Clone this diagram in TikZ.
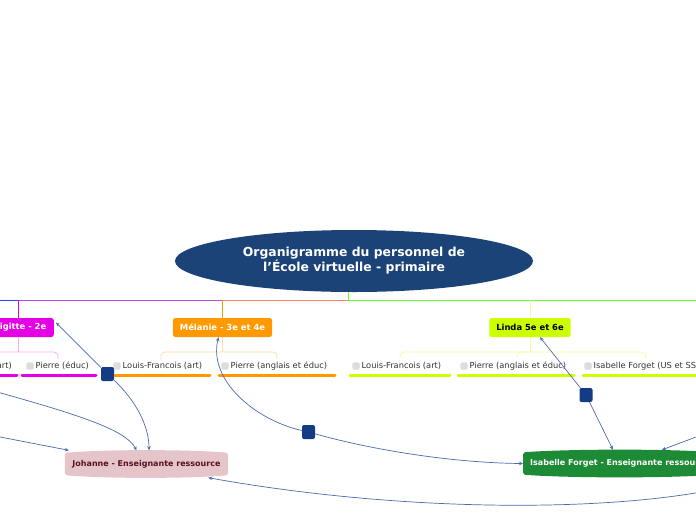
\documentclass[tikz,border=0pt]{standalone}
\usepackage{fontspec}
\setmainfont{DejaVu Sans}
\usetikzlibrary{arrows.meta,backgrounds,calc,shapes.geometric}
\definecolor{titleblue}{HTML}{1B4378}
\definecolor{handle}{HTML}{133B86}
\definecolor{rel}{HTML}{4A6AAA}
\definecolor{mag}{HTML}{E600E6}
\definecolor{magtop}{HTML}{B84CF0}
\definecolor{magl}{HTML}{F7A8F7}
\definecolor{org}{HTML}{FF9900}
\definecolor{orgtop}{HTML}{F4845A}
\definecolor{orgl}{HTML}{FFDCA8}
\definecolor{lime}{HTML}{CCFF00}
\definecolor{limel}{HTML}{EEFFA0}
\definecolor{grn}{HTML}{66FF22}
\definecolor{bluetop}{HTML}{3344FF}
\definecolor{pinkbg}{HTML}{E5C5C9}
\definecolor{maroon}{HTML}{5A0F22}
\definecolor{greenbg}{HTML}{1D8A35}
\definecolor{cbgray}{HTML}{DDDDDD}
\begin{document}
\begin{tikzpicture}[x=1pt,y=-1pt,
  branch/.style={rounded corners=2.5pt, minimum height=19pt, inner xsep=7pt, inner ysep=0pt, font=\fontsize{8.4}{10}\selectfont\bfseries, text=white},
  itemtext/.style={anchor=west, inner sep=0pt, font=\fontsize{8.3}{10}\selectfont, text=black!80},
  cbox/.style={fill=cbgray, draw=black!20, line width=0.3pt, rounded corners=1pt, minimum size=6.5pt, inner sep=0pt},
  uline/.style={line width=3pt, line cap=round},
  bracket/.style={line width=0.8pt, rounded corners=4pt},
  handlebox/.style={fill=handle, rounded corners=2pt, minimum width=13pt, minimum height=14pt, inner sep=0pt},
  relline/.style={draw=rel, line width=0.7pt, -{Stealth[length=4pt,width=3.5pt]}},
  resource/.style={font=\fontsize{8}{10}\selectfont\bfseries, inner xsep=7pt, inner ysep=0pt, minimum height=27pt},
  trunk/.style={line width=1pt}
]
\useasboundingbox (0,0) rectangle (696,520);
\clip (0,0) rectangle (696,520);

% root
\node[ellipse, fill=titleblue, minimum width=358pt, minimum height=62pt, inner sep=0pt,
      text=white, font=\fontsize{12.4}{15}\selectfont\bfseries, align=center] (root) at (354,261)
      {Organigramme du personnel de\\l'École virtuelle - primaire};
\coordinate (hub) at (348,300);

% branch nodes
\node[branch, fill=mag, minimum width=72pt, anchor=east] (bri) at (54,327.5) {Brigitte - 2e};
\node[branch, fill=org] (mel) at (222.5,327.5) {Mélanie - 3e et 4e};
\node[branch, fill=lime, text=black] (lin) at (530,327.5) {Linda 5e et 6e};
\coordinate (offTop) at (-10,300);
\coordinate (offTopR) at (706,300);
\coordinate (briDrop) at (18,300);

% trunk lines
\draw[trunk, grn] (root.south -| hub) -- (hub) -- (offTopR);
\draw[trunk, bluetop] (hub) -- (offTop);
\draw[trunk, magtop] (hub) -- (briDrop);
\draw[trunk, mag] (briDrop) -- (briDrop |- bri.north);
\draw[trunk, orgtop] (hub) -- (mel.north |- hub);
\draw[trunk, org] (mel.north |- hub) -- (mel.north);
\draw[trunk, limel] (lin.north |- hub) -- (lin.north);

% brackets
\draw[bracket, magl] (briDrop |- bri.south) -- (18,352);
\draw[bracket, magl] (-10,352) -- (58,352) -- (58,359);
\draw[bracket, orgl] (mel.south) -- (mel.south |- 0,352);
\draw[bracket, orgl] (161,359) -- (161,352) -- (277,352) -- (277,359);
\draw[bracket, limel] (lin.south) -- (lin.south |- 0,352);
\draw[bracket, limel] (400,359) -- (400,352) -- (530,352);
\draw[bracket, limel] (517,357) -- (517,352) -- (646,352) -- (646,359);

% items - Brigitte
\node[cbox] (cbB1) at (-77,366) {};
\node[itemtext, anchor=east] (tB1) at (12,366) {Louis-Francois (art)};
\draw[uline, mag] (-80,375) -- (17,375);
\node[cbox] (cbB2) at (30,366) {};
\node[itemtext] (tB2) at (35.5,366) {Pierre (éduc)};
\draw[uline, mag] (22,375) -- (96,375);
% items - Melanie
\node[cbox] (cbM1) at (117,366) {};
\node[itemtext] (tM1) at (122.5,366) {Louis-Francois (art)};
\draw[uline, org] (115,375) -- (210,375);
\node[cbox] (cbM2) at (225,366) {};
\node[itemtext] (tM2) at (230.5,366) {Pierre (anglais et éduc)};
\draw[uline, org] (219,375) -- (335,375);
% items - Linda
\node[cbox] (cbL1) at (356,366) {};
\node[itemtext] (tL1) at (361.5,366) {Louis-Francois (art)};
\draw[uline, lime] (350,375) -- (450,375);
\node[cbox] (cbL2) at (464,366) {};
\node[itemtext] (tL2) at (469.5,366) {Pierre (anglais et éduc)};
\draw[uline, lime] (458,375) -- (574,375);
\node[cbox] (cbL3) at (588,366) {};
\node[itemtext] (tL3) at (593.5,366) {Isabelle Forget (US et SS)};
\draw[uline, lime] (583,375) -- (710,375);

% resource nodes
\node[resource, text=maroon, minimum width=163pt] (joh) at (146.5,464) {Johanne - Enseignante ressource};
\node[resource, text=white, anchor=west] (isa) at (523,463.5) {Isabelle Forget - Enseignante ressource};
\begin{scope}[on background layer]
\fill[pinkbg, rounded corners=2pt]
  ([yshift=-2.5pt]joh.north west)
  .. controls ([yshift=1pt]$(joh.north west)!0.25!(joh.north east)$) and ([yshift=1pt]$(joh.north west)!0.75!(joh.north east)$) ..
  ([yshift=-2.5pt]joh.north east) -- ([yshift=2.5pt]joh.south east)
  .. controls ([yshift=-1pt]$(joh.south west)!0.75!(joh.south east)$) and ([yshift=-1pt]$(joh.south west)!0.25!(joh.south east)$) ..
  ([yshift=2.5pt]joh.south west) -- cycle;
\fill[greenbg, rounded corners=2pt]
  ([yshift=-2.5pt]isa.north west)
  .. controls ([yshift=1pt]$(isa.north west)!0.25!(isa.north east)$) and ([yshift=1pt]$(isa.north west)!0.75!(isa.north east)$) ..
  ([yshift=-2.5pt]isa.north east) -- ([yshift=2.5pt]isa.south east)
  .. controls ([yshift=-1pt]$(isa.south west)!0.75!(isa.south east)$) and ([yshift=-1pt]$(isa.south west)!0.25!(isa.south east)$) ..
  ([yshift=2.5pt]isa.south west) -- cycle;
\end{scope}

% handles
\node[handlebox] (h1) at (107.5,374) {};
\node[handlebox] (h2) at (308.5,432) {};
\node[handlebox] (h3) at (586,395) {};

% free ends
\coordinate (offL1) at (-10,390);
\coordinate (offL2) at (-10,435);
\coordinate (offR1) at (712,431);
\coordinate (offR2) at (712,490);

% relationships
\draw[relline] (h1) -- ([shift={(2,-5)}]bri.east);
\draw[relline] (h1) .. controls (135,400) and (149,425) .. ([xshift=2.5pt]joh.north);
\draw[relline] (h2) .. controls (255,420) and (208,380) .. ([xshift=-4pt]mel.south);
\draw[relline] (h2) .. controls (380,452) and (460,463) .. (isa.west);
\draw[relline] (h3) -- ([xshift=10pt]lin.south);
\draw[relline] (h3) -- ([xshift=90pt]isa.north west);
\draw[relline] (offR1) -- ([xshift=139pt]isa.north west);
\draw[relline] (offR2) .. controls (600,512) and (400,512) .. ([xshift=-20pt]joh.south east);
\draw[relline] (offL1) .. controls (80,415) and (126,430) .. ([xshift=-10pt]joh.north);
\draw[relline] (offL2) -- ([xshift=4pt]joh.north west);
\end{tikzpicture}
\end{document}
